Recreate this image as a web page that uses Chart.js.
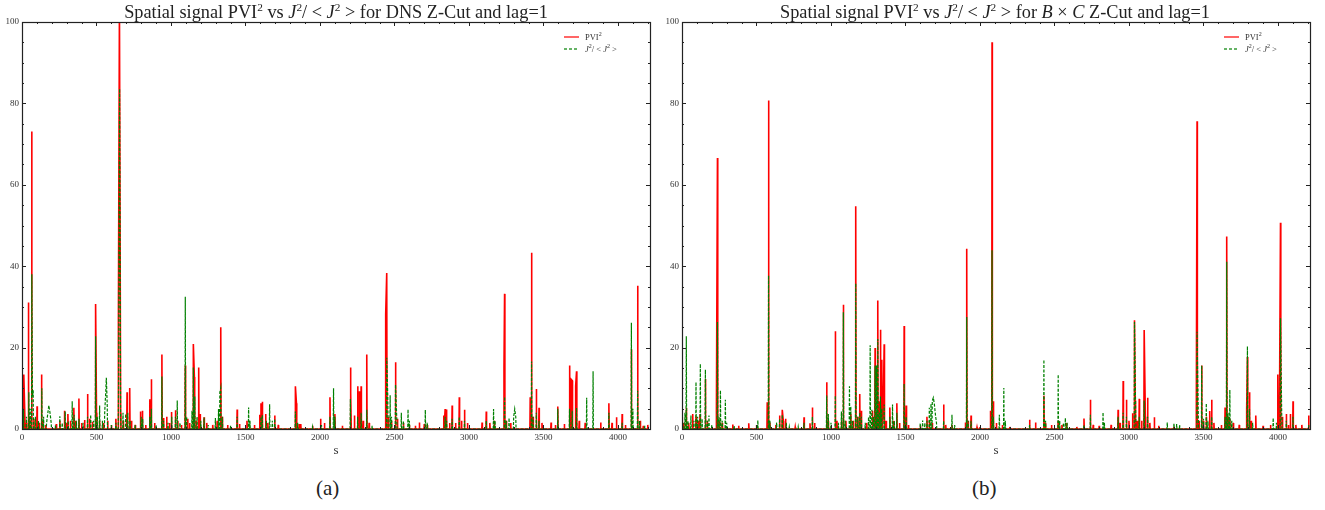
<!DOCTYPE html>
<html>
<head>
<meta charset="utf-8">
<script src="https://cdn.jsdelivr.net/npm/chart.js@4/dist/chart.umd.min.js"></script>
<style>
  body { margin: 0; background: #fff; width: 1325px; height: 510px; overflow: hidden; position: relative; }
  .panel { position: absolute; top: 0; width: 662px; height: 470px; }
  .panel canvas { position: absolute; left: 0; top: 0; }
  .ttl { position: absolute; top: 2px; font-family: "Liberation Serif", serif; font-size: 18.3px; line-height: 20px;
         text-align: center; color: #222; white-space: nowrap; }
  .ttl sup { font-size: 11.3px; line-height: 0; }
  .leg { position: absolute; font-family: "Liberation Serif", serif; font-size: 8.5px; color: #333; line-height: 12px; }
  .leg .row { position: relative; height: 12px; white-space: nowrap; }
  .leg .ln { position: absolute; left: 0; top: 5px; width: 15px; height: 2px; }
  .leg .solid { background: #ff6666; }
  .leg .dash { background: repeating-linear-gradient(90deg, #66b366 0 3px, transparent 3px 5px); }
  .leg .tx { position: absolute; left: 21px; top: 0; }
  .leg sup { font-size: 6px; line-height: 0; }
  .cap { position: absolute; top: 476px; font-family: "Liberation Serif", serif; font-size: 21px; color: #222; }
</style>
</head>
<body>
<div class="panel" style="left:0">
  <canvas id="chartA" width="662" height="470"></canvas>
  <div class="ttl" style="left:22px;width:628px">Spatial signal PVI<sup>2</sup> vs <i>J</i><sup>2</sup>/ &lt; <i>J</i><sup>2</sup> &gt; for DNS Z-Cut and lag=1</div>
  <div class="leg" style="left:564px;top:31px">
    <div class="row"><span class="ln solid"></span><span class="tx">PVI<sup>2</sup></span></div>
    <div class="row"><span class="ln dash"></span><span class="tx"><i>J</i><sup>2</sup>/ &lt; <i>J</i><sup>2</sup> &gt;</span></div>
  </div>
</div>
<div class="panel" style="left:660px">
  <canvas id="chartB" width="662" height="470"></canvas>
  <div class="ttl" style="left:21px;width:628px">Spatial signal PVI<sup>2</sup> vs <i>J</i><sup>2</sup>/ &lt; <i>J</i><sup>2</sup> &gt; for <i>B</i> × <i>C</i> Z-Cut and lag=1</div>
  <div class="leg" style="left:564px;top:31px">
    <div class="row"><span class="ln solid"></span><span class="tx">PVI<sup>2</sup></span></div>
    <div class="row"><span class="ln dash"></span><span class="tx"><i>J</i><sup>2</sup>/ &lt; <i>J</i><sup>2</sup> &gt;</span></div>
  </div>
</div>
<div class="cap" style="left:316px">(a)</div>
<div class="cap" style="left:972px">(b)</div>

<script>
// Axis ranges and tick values
const sMax = 4215;
const xTicks = [0, 500, 1000, 1500, 2000, 2500, 3000, 3500, 4000];
const yTicks = [0, 20, 40, 60, 80, 100];
const xMinorStep = 100, yMinorStep = 5;

// (a) DNS Z-Cut : PVI^2 spikes (position s, height)
const aPviS = [12, 20, 30, 43, 52, 65, 80, 101, 115, 131, 140, 160, 230, 254, 285, 297, 308, 325, 348, 360, 382, 400, 420, 440, 455, 472, 494, 500, 520, 547, 575, 600, 630, 647, 654, 662, 680, 705, 723, 735, 760, 795, 808, 830, 858, 868, 890, 939, 950, 971, 990, 1003, 1030, 1045, 1070, 1096, 1112, 1125, 1150, 1157, 1170, 1186, 1195, 1222, 1240, 1280, 1310, 1334, 1345, 1380, 1444, 1460, 1510, 1560, 1595, 1604, 1613, 1635, 1650, 1696, 1720, 1835, 1842, 1860, 1871, 1950, 2004, 2030, 2067, 2100, 2150, 2204, 2208, 2231, 2253, 2264, 2276, 2290, 2314, 2330, 2441, 2448, 2460, 2480, 2507, 2520, 2560, 2600, 2640, 2667, 2700, 2720, 2831, 2840, 2849, 2870, 2887, 2910, 2935, 2950, 2970, 2990, 3088, 3116, 3140, 3170, 3235, 3239, 3250, 3280, 3411, 3420, 3430, 3452, 3470, 3490, 3551, 3580, 3596, 3640, 3675, 3686, 3693, 3716, 3722, 3740, 3780, 3884, 3939, 3960, 3990, 4028, 4050, 4090, 4132, 4150, 4170, 4200];
const aPviV = [13.4, 2, 1.5, 31.1, 3, 73.1, 2.5, 5.6, 1.5, 13.4, 2, 1, 1.2, 2, 4.5, 1.5, 3.7, 2, 5.2, 2, 7.5, 1.5, 2.2, 8.6, 2.5, 1.8, 30.7, 4, 2, 1.5, 2, 1, 2.5, 26, 104, 4, 2, 9, 10.1, 2, 1, 4.3, 4.5, 1, 7.3, 12.2, 1.5, 18.3, 2.7, 3, 1.5, 4.2, 4.6, 2, 1, 15.6, 2.5, 1.5, 20.9, 12.8, 2, 15.1, 3.7, 2.9, 1.5, 1, 2, 25, 3, 1, 4.8, 1.2, 2, 1, 3.5, 6.3, 6.7, 3.7, 1.5, 3.3, 1, 10.5, 6.3, 1.2, 1.2, 0.8, 2.5, 1.5, 7.8, 3.7, 0.8, 15.1, 8.8, 3.3, 10.5, 9.3, 10.5, 2, 18.3, 1.5, 28.2, 38.3, 3, 2, 16.4, 2.5, 1.5, 1, 0.8, 1.6, 1.2, 1, 3.3, 4.9, 4.8, 1.5, 5.8, 1.5, 7.8, 2, 4.7, 1.5, 1.6, 4.3, 1.5, 2, 15.4, 33.2, 2, 1.5, 7.8, 43.3, 3, 9.8, 5.2, 1.5, 1.6, 1, 5.5, 1.2, 15.6, 12.2, 11.9, 10.5, 14.2, 2, 1.5, 1.6, 6.3, 1.5, 2.9, 3.7, 1, 19.6, 35.2, 2, 0.8, 1];

// (a) DNS Z-Cut : J^2/<J^2>
const aJS = [10, 30, 46, 55, 66, 70, 75, 90, 110, 133, 145, 165, 172, 180, 188, 196, 225, 254, 270, 290, 310, 337, 350, 365, 382, 410, 440, 461, 480, 494, 505, 521, 540, 555, 562, 566, 572, 600, 630, 648, 655, 662, 678, 696, 710, 725, 760, 800, 810, 858, 868, 900, 939, 950, 980, 1005, 1030, 1042, 1060, 1096, 1105, 1141, 1150, 1160, 1175, 1200, 1222, 1250, 1298, 1319, 1328, 1334, 1345, 1400, 1444, 1521, 1530, 1604, 1613, 1640, 1662, 1680, 1696, 1835, 1850, 1950, 2010, 2067, 2091, 2100, 2204, 2253, 2276, 2314, 2350, 2448, 2455, 2471, 2480, 2507, 2515, 2546, 2560, 2591, 2600, 2707, 2720, 2840, 2850, 2887, 2935, 2970, 3116, 3165, 3175, 3239, 3250, 3269, 3300, 3307, 3314, 3420, 3430, 3452, 3470, 3596, 3675, 3693, 3722, 3790, 3833, 3939, 4028, 4090, 4100, 4132, 4145, 4180];
const aJV = [5, 3, 9, 5, 38, 8, 9.5, 3, 2, 10, 3, 1.5, 3.5, 5.8, 4, 1.5, 1, 3.1, 1.5, 4.3, 2, 6.8, 3.5, 2, 2.5, 1.5, 3, 3.5, 2, 22.8, 3, 5.8, 2, 4, 9, 12.6, 6, 1, 1.5, 9, 83.6, 3, 4, 3.7, 4, 2, 1, 3, 2.5, 3, 5, 1, 12.9, 2, 1.5, 3, 3, 7, 1.5, 32.5, 3, 4.5, 15.1, 8, 3, 2, 2.8, 1, 2.7, 4.9, 9, 10.1, 3, 0.8, 3, 5.3, 2, 3, 3.5, 2, 6.1, 2, 2.5, 4.3, 1.5, 0.5, 1, 3, 10, 3, 7.4, 3, 4, 4.7, 0.8, 17.5, 8, 8.3, 3, 10.9, 3, 4, 2, 4.8, 2, 4.7, 1.5, 3, 2, 2.5, 3, 2, 2, 4.9, 2, 7.9, 2, 2.7, 3, 4.9, 3, 16.6, 3, 4, 2, 5, 5, 4.5, 5.2, 7.7, 14.2, 4, 1.5, 26.1, 5, 9.4, 2, 0.8];

// (b) B x C Z-Cut : PVI^2
const bPviS = [0, 12, 29, 45, 72, 94, 108, 121, 157, 170, 231, 238, 250, 270, 341, 380, 448, 500, 572, 581, 590, 630, 655, 673, 680, 695, 760, 819, 859, 875, 890, 971, 982, 1029, 1040, 1070, 1083, 1100, 1133, 1150, 1166, 1180, 1193, 1204, 1240, 1278, 1296, 1305, 1314, 1323, 1332, 1341, 1350, 1357, 1370, 1395, 1420, 1442, 1460, 1491, 1505, 1520, 1600, 1644, 1660, 1680, 1756, 1770, 1812, 1902, 1911, 1920, 1940, 1980, 2000, 2070, 2081, 2090, 2110, 2150, 2200, 2333, 2373, 2429, 2440, 2480, 2525, 2550, 2580, 2650, 2698, 2741, 2760, 2800, 2880, 2927, 2940, 2961, 2983, 3000, 3024, 3037, 3042, 3055, 3069, 3085, 3102, 3110, 3125, 3140, 3170, 3200, 3300, 3452, 3457, 3470, 3488, 3500, 3519, 3542, 3555, 3570, 3620, 3645, 3656, 3665, 3677, 3700, 3740, 3790, 3795, 3809, 3820, 3851, 3900, 3950, 3999, 4010, 4017, 4030, 4056, 4070, 4083, 4101, 4120, 4160, 4206];
const bPviV = [3, 1.5, 5.2, 1.5, 3.7, 3, 2, 3.7, 12.3, 2, 4.5, 66.6, 2, 1.5, 1.1, 0.8, 1.4, 1, 6.6, 80.7, 1.6, 1, 3.3, 4.7, 2, 2.5, 0.5, 2.9, 1.4, 5.3, 1.5, 11.5, 2, 24, 2, 2, 30.5, 2, 3.7, 2, 54.7, 3, 8.6, 4.5, 1.5, 4.5, 19.9, 4, 31.6, 6.8, 24.4, 17, 4, 20.8, 2, 5.3, 2, 6.3, 1.5, 25.3, 5.8, 1, 0.8, 3, 2, 1.5, 6, 1, 1, 1.6, 44.3, 2, 3.3, 0.4, 0.5, 4.5, 95, 6.8, 1.5, 1, 0.5, 2.3, 1.6, 8.2, 1.5, 1, 2, 1, 1.5, 0.5, 2.6, 7.2, 1, 0.8, 1, 4.7, 1.5, 11.8, 7.2, 2, 3.9, 26.7, 7, 2, 7.4, 2, 24.3, 3, 7.7, 1.5, 2.9, 0.8, 0.5, 4.4, 75.6, 2, 15.6, 2, 3, 4.4, 7.2, 1.5, 1, 5.3, 47.3, 3, 2.5, 1.5, 1, 5, 17.7, 9, 2, 3.3, 0.8, 1, 13.4, 4, 50.7, 3, 3.7, 1, 3.7, 6.8, 1, 1, 3.3];

// (b) B x C Z-Cut : J^2/<J^2>
const bJS = [6, 20, 29, 40, 60, 80, 94, 105, 123, 135, 157, 170, 181, 200, 238, 248, 258, 270, 291, 300, 350, 509, 581, 590, 635, 655, 673, 700, 720, 780, 819, 875, 971, 982, 1000, 1029, 1050, 1070, 1083, 1095, 1124, 1133, 1145, 1166, 1180, 1193, 1204, 1230, 1252, 1263, 1274, 1285, 1296, 1305, 1314, 1323, 1332, 1341, 1357, 1395, 1413, 1425, 1442, 1491, 1505, 1599, 1615, 1630, 1644, 1660, 1671, 1680, 1687, 1694, 1701, 1708, 1756, 1812, 1830, 1911, 1920, 1940, 2081, 2090, 2130, 2160, 2170, 2333, 2429, 2440, 2525, 2535, 2560, 2573, 2585, 2698, 2741, 2826, 2835, 2927, 2961, 2983, 3037, 3045, 3069, 3102, 3125, 3257, 3302, 3320, 3340, 3457, 3465, 3488, 3500, 3519, 3530, 3555, 3645, 3656, 3665, 3677, 3690, 3795, 3809, 3830, 3968, 3990, 4017, 4025, 4056, 4101, 4206];
const bJV = [1.5, 4, 22.8, 2, 3.3, 2, 11.5, 3, 16, 2.5, 14.6, 2, 3.3, 1, 26.3, 3, 9.5, 2, 7.2, 1.5, 0.8, 2.1, 37.7, 2, 1.6, 2.5, 3.5, 1.5, 0.5, 0.5, 1.5, 3, 8.2, 3.7, 1.5, 8.2, 1.5, 4.3, 28.7, 2, 10.5, 5.5, 2, 35.8, 3, 4, 3, 1.5, 2.9, 20.6, 4.7, 3, 15.6, 15.6, 22.1, 4, 8, 5, 6, 3, 6, 2, 4, 11.1, 3, 1.4, 2.1, 1.5, 2, 5.2, 6.2, 7, 7.7, 6, 3.5, 1.5, 2, 3.5, 1, 27.5, 2, 2, 43.9, 3, 3.5, 10.1, 2, 1, 17, 2, 13.4, 2, 1.5, 2.7, 1.5, 1, 3.5, 4.1, 1.5, 3, 4, 3, 26.3, 4, 3, 7, 3, 1.6, 1.4, 1.2, 1, 23.9, 4, 15.6, 2.5, 6.3, 2, 3, 3, 41.1, 4, 9.6, 2, 20.3, 5, 1.5, 2.7, 1.5, 27.2, 4, 2, 3, 1];

// Turn a list of spikes into line points; the signal sits near zero between isolated spikes
function buildPoints(sArr, vArr) {
  const pts = [];
  for (let i = 0; i < sArr.length; i++) {
    const s = sArr[i];
    const prev = i > 0 ? sArr[i - 1] : -Infinity;
    const next = i < sArr.length - 1 ? sArr[i + 1] : Infinity;
    if (s - prev > 8) pts.push({ x: s - 2, y: 0 });
    pts.push({ x: s, y: vArr[i] });
    if (next - s > 8) pts.push({ x: s + 2, y: 0 });
  }
  return pts;
}

// Inward ticks on all four sides plus the frame, like the original figure
const frameTicks = {
  id: 'frameTicks',
  afterDraw(chart) {
    const { ctx, chartArea: a, scales } = chart;
    const xs = scales.x, ys = scales.y;
    ctx.save();
    ctx.strokeStyle = '#222';
    ctx.lineWidth = 1;
    ctx.beginPath();
    for (let v = 0; v <= sMax; v += xMinorStep) {
      const px = Math.round(xs.getPixelForValue(v)) + 0.5;
      const len = xTicks.includes(v) ? 4 : 2;
      ctx.moveTo(px, a.bottom); ctx.lineTo(px, a.bottom - len);
      ctx.moveTo(px, a.top); ctx.lineTo(px, a.top + len);
    }
    for (let v = 0; v <= 100; v += yMinorStep) {
      const py = Math.round(ys.getPixelForValue(v)) + 0.5;
      const len = yTicks.includes(v) ? 4 : 2;
      ctx.moveTo(a.left, py); ctx.lineTo(a.left + len, py);
      ctx.moveTo(a.right, py); ctx.lineTo(a.right - len, py);
    }
    ctx.stroke();
    ctx.lineWidth = 1.2;
    ctx.strokeRect(Math.round(a.left) + 0.5, Math.round(a.top) + 0.5,
                   Math.round(a.right - a.left), Math.round(a.bottom - a.top));
    ctx.restore();
  }
};

function makeChart(id, pviS, pviV, jS, jV) {
  const tickFont = { family: 'Liberation Serif', size: 9 };
  return new Chart(document.getElementById(id), {
    type: 'line',
    data: {
      datasets: [
        {
          label: 'PVI²',
          data: buildPoints(pviS, pviV),
          borderColor: '#ff0000',
          borderWidth: 1.6,
          pointRadius: 0,
          tension: 0,
          order: 2
        },
        {
          label: 'J²/<J²>',
          data: buildPoints(jS, jV),
          borderColor: '#008000',
          borderWidth: 1.2,
          borderDash: [3, 1.5],
          pointRadius: 0,
          tension: 0,
          order: 1
        }
      ]
    },
    options: {
      responsive: false,
      animation: false,
      devicePixelRatio: 1,
      layout: { padding: { top: 22, right: 12, left: 0, bottom: 0 } },
      plugins: { legend: { display: false }, tooltip: { enabled: false } },
      scales: {
        x: {
          type: 'linear',
          min: 0,
          max: sMax,
          grid: { display: false, drawTicks: false },
          border: { display: false },
          ticks: { autoSkip: false, maxRotation: 0, color: '#333', font: tickFont, padding: 3,
                   callback: (v) => String(v) },
          afterBuildTicks: (scale) => { scale.ticks = xTicks.map(v => ({ value: v })); },
          afterFit: (scale) => { scale.height = 41; },
          title: {
            display: true,
            text: 's',
            color: '#333',
            font: { family: 'Liberation Serif', size: 13 },
            padding: { top: 0, bottom: 12 }
          }
        },
        y: {
          min: 0,
          max: 100,
          grid: { display: false, drawTicks: false },
          border: { display: false },
          ticks: { color: '#333', font: tickFont, padding: 3, callback: (v) => String(v) },
          afterBuildTicks: (scale) => { scale.ticks = yTicks.map(v => ({ value: v })); },
          afterFit: (scale) => { scale.width = 22; }
        }
      }
    },
    plugins: [frameTicks]
  });
}

makeChart('chartA', aPviS, aPviV, aJS, aJV);
makeChart('chartB', bPviS, bPviV, bJS, bJV);
</script>
</body>
</html>
